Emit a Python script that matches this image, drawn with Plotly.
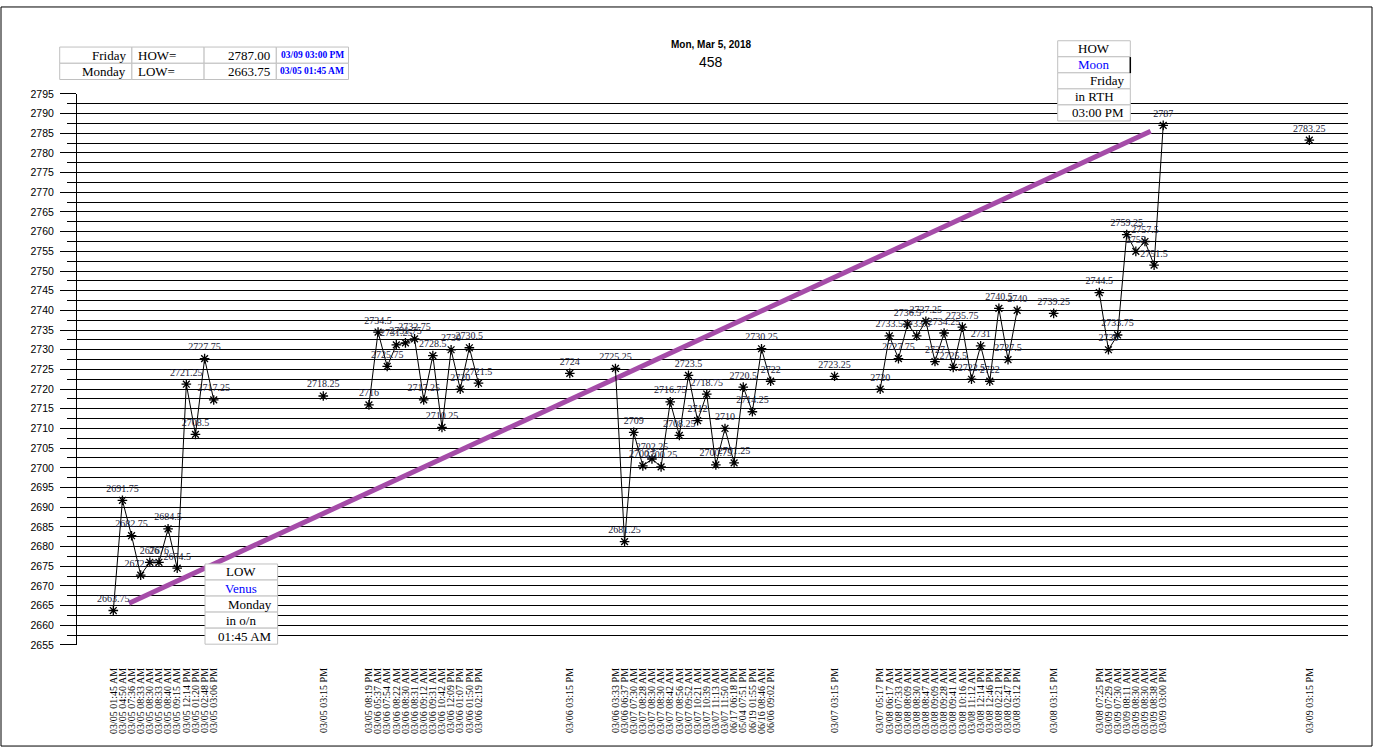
import plotly.graph_objects as go

W, H = 1382, 754

# session blocks: time labels and prices
g1_times = ["03/05 01:45 AM", "03/05 04:50 AM", "03/05 07:36 AM", "03/05 08:33 AM",
            "03/05 08:30 AM", "03/05 08:33 AM", "03/05 08:40 AM", "03/05 09:15 AM",
            "03/05 12:14 PM", "03/05 01:20 PM", "03/05 02:48 PM", "03/05 03:06 PM"]
g1_prices = [2663.75, 2691.75, 2682.75, 2672.75, 2676, 2676, 2684.5, 2674.5,
             2721.25, 2708.5, 2727.75, 2717.25]

g2_times = ["03/05 08:19 PM", "03/06 05:37 AM", "03/06 07:54 AM", "03/06 08:22 AM",
            "03/06 08:30 AM", "03/06 08:31 AM", "03/06 09:12 AM", "03/06 09:31 AM",
            "03/06 10:42 AM", "03/06 12:09 PM", "03/06 01:07 PM", "03/06 01:50 PM",
            "03/06 02:19 PM"]
g2_prices = [2716, 2734.5, 2725.75, 2731.25, 2731.75, 2732.75, 2717.25, 2728.5,
             2710.25, 2730, 2720, 2730.5, 2721.5]

g3_times = ["03/06 03:33 PM", "03/06 06:37 PM", "03/07 07:30 AM", "03/07 08:28 AM",
            "03/07 08:30 AM", "03/07 08:30 AM", "03/07 08:42 AM", "03/07 08:56 AM",
            "03/07 09:52 AM", "03/07 10:21 AM", "03/07 10:39 AM", "03/07 11:13 AM",
            "03/07 11:50 AM", "06/17 06:18 PM", "05/04 07:51 PM", "06/19 01:55 PM",
            "06/16 08:46 AM", "06/06 09:02 PM"]
g3_prices = [2725.25, 2681.25, 2709, 2700.5, 2702.25, 2700.25, 2716.75, 2708.25,
             2723.5, 2712, 2718.75, 2700.75, 2710, 2701.25, 2720.5, 2714.25,
             2730.25, 2722]

g4_times = ["03/07 05:17 PM", "03/08 06:17 AM", "03/08 07:33 AM", "03/08 08:09 AM",
            "03/08 08:30 AM", "03/08 08:47 AM", "03/08 09:09 AM", "03/08 09:28 AM",
            "03/08 09:41 AM", "03/08 10:16 AM", "03/08 11:12 AM", "03/08 12:14 PM",
            "03/08 12:46 PM", "03/08 02:21 PM", "03/08 02:47 PM", "03/08 03:12 PM"]
g4_prices = [2720, 2733.5, 2727.75, 2736.5, 2733.5, 2737.25, 2727, 2734.25,
             2725.5, 2735.75, 2722.5, 2731, 2722, 2740.5, 2727.5, 2740]

g5_times = ["03/08 07:25 PM", "03/09 07:29 AM", "03/09 07:30 AM", "03/09 08:11 AM",
            "03/09 08:30 AM", "03/09 08:30 AM", "03/09 08:38 AM", "03/09 03:00 PM"]
g5_prices = [2744.5, 2730, 2733.75, 2759.25, 2755, 2757.5, 2751.5, 2787]

# lone 03:15 PM settle points after each block
settle_times = ["03/05 03:15 PM", "03/06 03:15 PM", "03/07 03:15 PM",
                "03/08 03:15 PM", "03/09 03:15 PM"]
settle_prices = [2718.25, 2724, 2723.25, 2739.25, 2783.25]

# empty axis slots in front of each block
slot_gaps = [0, 11, 4, 9, 4, 6, 4, 3, 4, 15]

high_box = ["HOW", "Moon", "Friday", "in RTH"]
low_box = ["LOW", "Venus", "Monday", "in o/n"]

blocks = []
for t, p, st, sp in zip([g1_times, g2_times, g3_times, g4_times, g5_times],
                        [g1_prices, g2_prices, g3_prices, g4_prices, g5_prices],
                        settle_times, settle_prices):
    blocks.append((t, p))
    blocks.append(([st], [sp]))

xs, ys, texts, tick_x, tick_text = [], [], [], [], []
pos = -1
for (times, prices), gap in zip(blocks, slot_gaps):
    pos += gap
    for t, p in zip(times, prices):
        pos += 1
        xs.append(pos)
        ys.append(p)
        texts.append(f"{p:g}")
        tick_x.append(pos)
        tick_text.append(t)
    # break the line between blocks
    xs.append(None)
    ys.append(None)
    texts.append("")

all_pts = [(x, y) for x, y in zip(xs, ys) if x is not None]
lo_x, lo_p = min(all_pts, key=lambda a: a[1])
hi_x, hi_p = max(all_pts, key=lambda a: a[1])
lo_time = tick_text[tick_x.index(lo_x)]
hi_time = tick_text[tick_x.index(hi_x)]

# trend line from the week's low to its high, trimmed a little at both ends
trim0, trim1 = 0.015, 0.012
tx = [lo_x + (hi_x - lo_x) * trim0, hi_x - (hi_x - lo_x) * trim1]
ty = [lo_p + (hi_p - lo_p) * trim0, hi_p - (hi_p - lo_p) * trim1]

fig = go.Figure()
fig.add_trace(go.Scatter(x=tx, y=ty, mode="lines",
                         line=dict(color="#A54CA8", width=5), hoverinfo="skip"))
fig.add_trace(go.Scatter(
    x=xs, y=ys, mode="lines+markers+text", text=texts, textposition="top center",
    textfont=dict(family="Liberation Serif", size=10, color="#1c1c38"),
    line=dict(color="black", width=1),
    marker=dict(symbol="asterisk-open", size=8, color="black",
                line=dict(color="black", width=1.3)),
    connectgaps=False, cliponaxis=False))

s = 9.13
fig.update_layout(
    width=W, height=H, autosize=False, showlegend=False,
    margin=dict(l=0, r=0, t=0, b=0),
    paper_bgcolor="white", plot_bgcolor="white",
    xaxis=dict(domain=[77 / W, 1348 / W],
               range=[-(113.3 - 77) / s, tick_x[-1] + (1348 - 1309.3) / s],
               tickvals=tick_x, ticktext=tick_text, tickangle=-90,
               tickfont=dict(family="Liberation Serif", size=10, color="black"),
               showgrid=False, zeroline=False, showline=False, ticks="",
               ticklabelstandoff=20),
    yaxis=dict(domain=[1 - 649.3 / H, 1 - 89.3 / H], range=[2655, 2795],
               tick0=2655, dtick=5, showgrid=True, gridcolor="black", gridwidth=1,
               ticks="outside", ticklen=16, tickcolor="black", tickwidth=1,
               showline=True, linecolor="black", linewidth=1, zeroline=False,
               tickfont=dict(family="Liberation Sans", size=10.5, color="black"),
               ticklabelstandoff=4,
               minor=dict(dtick=2.5, showgrid=True, gridcolor="black", gridwidth=1,
                          ticks="outside", ticklen=9, tickcolor="black")),
)


def px(x):
    return x / W


def py(y):
    return 1 - y / H


def add_cell(x0, y0, x1, y1, text, align, color="black", size=13, family="Liberation Serif"):
    fig.add_shape(type="rect", xref="paper", yref="paper",
                  x0=px(x0), x1=px(x1), y0=py(y1), y1=py(y0),
                  line=dict(color="#C0C0C0", width=1), fillcolor="white", layer="above")
    pad = 4
    ax = {"left": x0 + pad, "right": x1 - pad, "center": (x0 + x1) / 2}[align]
    fig.add_annotation(xref="paper", yref="paper", x=px(ax), y=py((y0 + y1) / 2),
                       text=text, showarrow=False, xanchor=align, yanchor="middle",
                       font=dict(family=family, size=size, color=color))


# top-left HOW / LOW table
table_rows = [["Friday", "HOW=", f"{hi_p:.2f}", hi_time],
              ["Monday", "LOW=", f"{lo_p:.2f}", lo_time]]
col_align = ["right", "left", "right", "center"]
cw, rh = 72.2, 16.5
for r, row in enumerate(table_rows):
    for c, val in enumerate(row):
        x0 = 59.7 + c * cw
        y0 = 41.7 + r * rh
        if c == 3:
            add_cell(x0, y0, x0 + cw, y0 + rh, f"<b>{val}</b>", "center", "#0000FF", 9.5)
        else:
            add_cell(x0, y0, x0 + cw, y0 + rh, val, col_align[c])

# boxes at the high and the low
box_align = ["center", "center", "right", "center", "right"]
for items, when, bx, by in [(high_box, hi_time, 1057.7, 35.3), (low_box, lo_time, 205, 567)]:
    rows = items + [when[6:]]
    for r, val in enumerate(rows):
        y0 = by + r * 16.3
        add_cell(bx, y0, bx + 72.6, y0 + 16.3, val, box_align[r],
                 "#0000FF" if r == 1 else "black")

fig.add_shape(type="line", xref="paper", yref="paper", x0=px(1130.3), x1=px(1130.3),
              y0=py(68.2), y1=py(51.9), line=dict(color="black", width=1.5))

# title
fig.add_annotation(xref="paper", yref="paper", x=px(711), y=py(32), text="<b>Mon, Mar 5, 2018</b>",
                   showarrow=False, font=dict(family="Liberation Sans", size=10, color="black"))
fig.add_annotation(xref="paper", yref="paper", x=px(711), y=py(46.5), text="458",
                   showarrow=False, font=dict(family="Liberation Sans", size=14, color="black"))

# outer frame
fig.add_shape(type="rect", xref="paper", yref="paper", x0=px(1), x1=px(1372),
              y0=py(752), y1=py(1), line=dict(color="black", width=1), layer="above")

fig.write_html("out.html", config={"displayModeBar": False},
               post_script="document.body.style.margin='0';")
